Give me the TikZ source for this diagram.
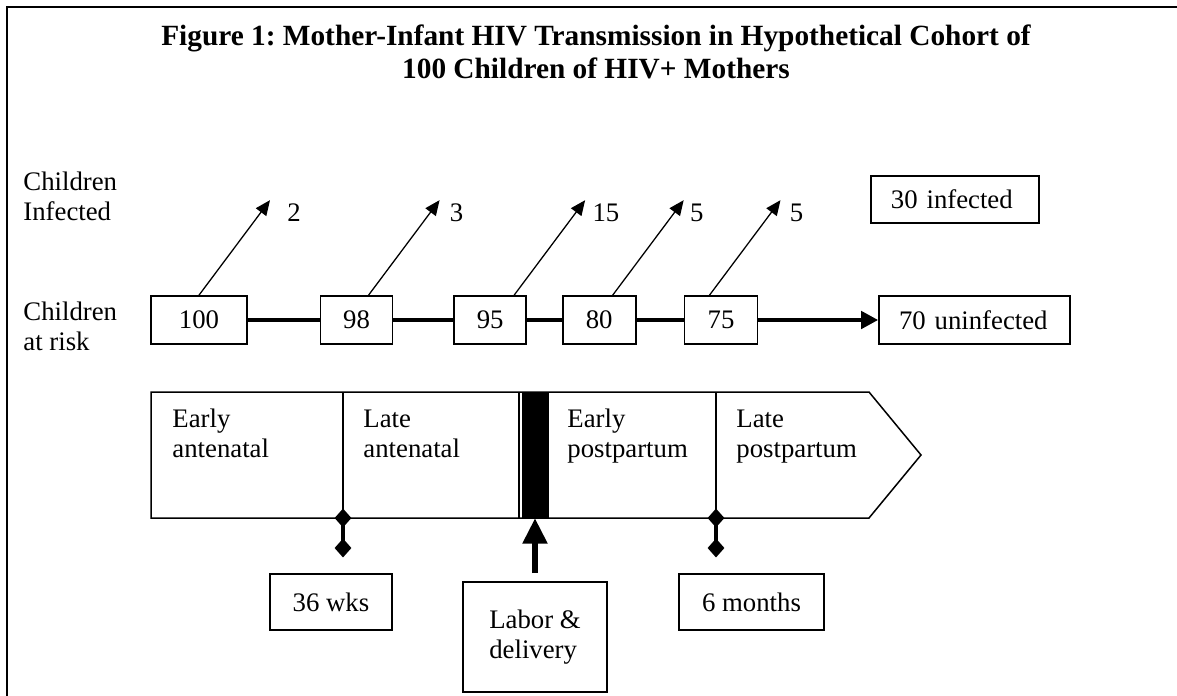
\documentclass[tikz,border=0pt]{standalone}
\usepackage{fontspec}
\setmainfont{Liberation Serif}
\usetikzlibrary{arrows.meta, positioning, calc, shapes.geometric}
\frenchspacing

\begin{document}
\begin{tikzpicture}[x=0.01642cm, y=-0.01642cm,
 font=\fontsize{12.5pt}{14pt}\selectfont,
 box/.style={draw, line width=0.8pt, minimum height=22.4pt, inner sep=0pt},
 wide box/.style={box, inner xsep=9.3pt, align=left},
 link/.style={line width=2.2pt},
 diag/.style={line width=0.6pt, -{Triangle[length=7pt,width=6pt]}},
 dmd/.style={diamond, fill, inner sep=0pt, minimum width=8pt, minimum height=9pt},
 txt/.style={inner sep=0pt, align=left, anchor=base west}]
\useasboundingbox (0,0) rectangle (1177,696);
\draw[line width=1.2pt] (7,696) -- (7,7) -- (1177,7);

\node[font=\fontsize{13.7pt}{15pt}\selectfont\bfseries, align=center, anchor=base, inner sep=0pt]
  (title) at (596,78) {Figure 1: Mother-Infant HIV Transmission in Hypothetical Cohort of\\100 Children of HIV+ Mothers};

\node[txt] (lblinf) at (23,220) {Children\\Infected};
\node[txt] (lblrisk) at (23,350) {Children\\at risk};

% children at risk
\node[box, minimum width=44.8pt] (n100) at (199,320) {100};
\node[box, minimum width=33.6pt, right=33.6pt of n100] (n98) {98};
\node[box, minimum width=33.6pt, right=28pt of n98] (n95) {95};
\node[box, minimum width=34.1pt, right=16.3pt of n95] (n80) {80};
\node[box, minimum width=34.1pt, right=22pt of n80] (n75) {75};
\node[wide box, text width=70.6pt, right=56pt of n75] (unin) {70 uninfected};
\node[wide box, text width=59.9pt, minimum height=22pt] (inf) at (955,199.5) {30 infected};

\foreach \a/\b in {n100/n98, n98/n95, n95/n80, n80/n75}
  \draw[link] (\a) -- (\b);
\draw[link, -{Triangle[length=8pt,width=8pt]}] (n75) -- (unin);

% children infected
\foreach \b/\dx/\v/\gap [count=\i] in {n100/0/2/17, n98/12/3/10, n95/24/15/7, n80/13.5/5/6, n75/-11.5/5/9}{
  \coordinate (tip\i) at ($(\b.north)+(\dx+71,-95)$);
  \draw[diag] ($(\b.north)+(\dx,0)$) -- (tip\i);
  \node[txt] (inf\i) at ($(tip\i)+(\gap,21)$) {\v};
}

% time line
\draw[line width=0.7pt] (151,392) -- (869,392) -- (921,455) -- (869,518) -- (151,518) -- cycle;
\draw[line width=0.7pt] (343,392) -- (343,518) (519,392) -- (519,518) (716,392) -- (716,518);
\fill (522,392) rectangle (549,518);

\node[txt] (ea) at (172,457) {Early\\antenatal};
\node[txt] (la) at (363,457) {Late\\antenatal};
\node[txt] (ep) at (567,457) {Early\\postpartum};
\node[txt] (lp) at (736,457) {Late\\postpartum};

\foreach \x/\m in {343/wk, 716/mo}{
  \coordinate (\m top) at (\x,518);
  \coordinate (\m bot) at (\x,548);
  \draw[line width=1.8pt] (\m top) -- (\m bot);
  \node[dmd] at (\m top) {};
  \node[dmd] at (\m bot) {};
}

\node[box, minimum width=57pt, minimum height=26pt] (wks) at (331,602) {36 wks};
\node[box, minimum width=67.7pt, minimum height=26pt] (mon) at (751.5,602) {6 months};
\node[box, minimum width=67.2pt, minimum height=51.4pt, align=left] (labor) at (535,637) {Labor \&\\delivery};

\coordinate (birth) at (535,518);
\draw[line width=3.2pt, -{Triangle[length=12pt,width=11pt]}, shorten <=3.7pt] (labor) -- (birth);
\end{tikzpicture}
\end{document}
